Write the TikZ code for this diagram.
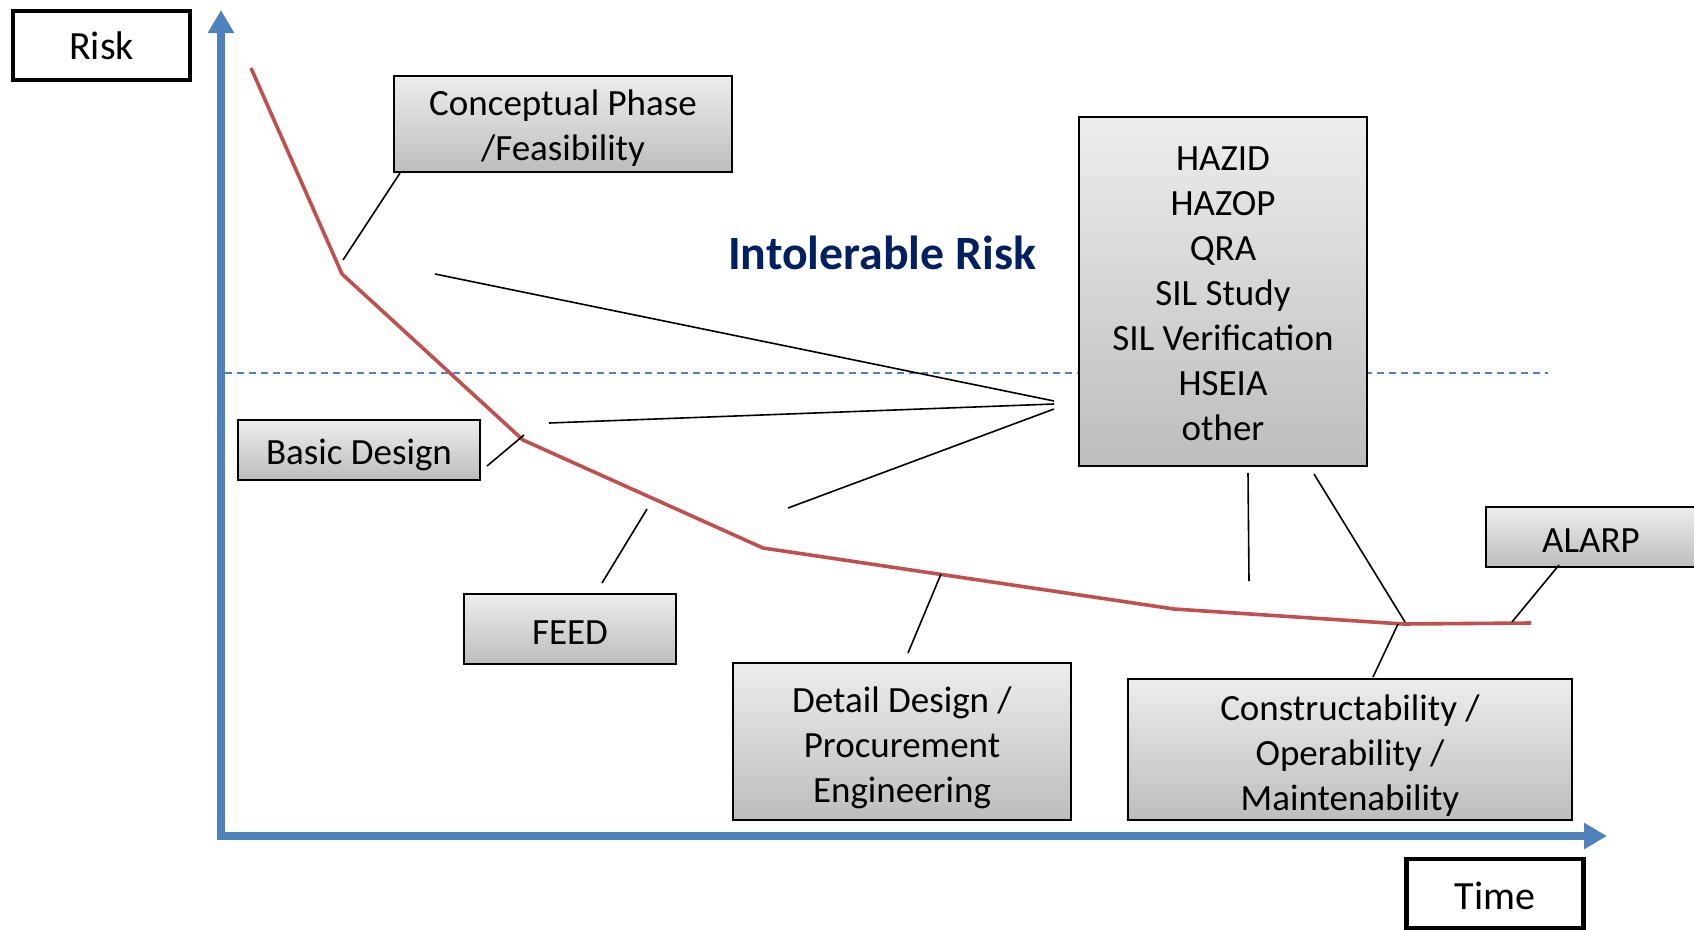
\documentclass[tikz,border=0pt]{standalone}
\usepackage{fontspec}
\setmainfont{Carlito}
\usetikzlibrary{arrows.meta}
\definecolor{axisblue}{HTML}{4F81BD}
\definecolor{curvered}{HTML}{C0504D}
\definecolor{titleblue}{HTML}{002060}
\definecolor{boxtop}{HTML}{EDEDED}
\definecolor{boxbottom}{HTML}{BDBDBD}
% first-line strut: sets the line box so the text sits like the slide layout
\newcommand{\phasestrut}[1]{\rule{0pt}{#1pt}}

\begin{document}
\begin{tikzpicture}[x=1pt,y=-1pt,
  phase/.style={draw=black, line width=1.8pt, top color=boxtop, bottom color=boxbottom,
    inner sep=0pt, align=center, font=\fontsize{37}{44.9}\selectfont},
  axislabel/.style={draw=black, line width=4.5pt, fill=white, inner sep=0pt,
    minimum width=177pt, minimum height=69pt, font=\fontsize{40}{48}\selectfont},
  lift/.style={execute at begin node={\phasestrut{#1}}},
  axisline/.style={axisblue, line width=7.5pt,
    -{Triangle[length=23pt, width=25pt]}},
  leader/.style={black, line width=1.6pt},
  riskcurve/.style={curvered, line width=3.6pt, line join=round},
  threshold/.style={axisblue, line width=1.6pt, dash pattern=on 7pt off 5pt},
]
\path[use as bounding box, clip] (0,0) rectangle (1694,929);

% axes
\coordinate (origin) at (221,836);
\coordinate (ytip) at (221,10);
\coordinate (xtip) at (1607,836);
\draw[axisline] ([yshift=-3.75pt]origin) -- (ytip);
\draw[axisline] ([xshift=-3.75pt]origin) -- (xtip);

% tolerability threshold
\coordinate (thrA) at (225,373);
\coordinate (thrB) at (1548,373);
\draw[threshold] (thrA) -- (thrB);

% axis labels
\node[axislabel] (risk) at (101.5,45.5) {Risk};
\node[axislabel, lift=33] (time) at (1495,893.5) {Time};

% risk reduction curve
\coordinate (c0) at (251,68);
\coordinate (c1) at (342,274);
\coordinate (c2) at (523,440);
\coordinate (c3) at (763,548);
\coordinate (c4) at (1174,609);
\coordinate (c5) at (1403,624);
\coordinate (c6) at (1531,623);
\draw[riskcurve] (c0) -- (c1) -- (c2) -- (c3) -- (c4) -- (c5) -- (c6);

% region label
\node[font=\fontsize{47.8}{57}\bfseries\selectfont, text=titleblue] (intol) at (882,253) {Intolerable Risk};

% project phases
\node[phase, minimum width=338pt, minimum height=96pt] (concept) at (563,124)
  {\phasestrut{34}Conceptual Phase\\/Feasibility};
\node[phase, minimum width=288pt, minimum height=349pt] (studies) at (1223,291.5)
  {\phasestrut{28.2}HAZID\\HAZOP\\QRA\\SIL Study\\SIL Verification\\HSEIA\\other};
\node[phase, lift=34.6, minimum width=242pt, minimum height=60pt] (basic) at (359,450) {Basic Design};
\node[phase, lift=30.2, minimum width=212pt, minimum height=70pt] (feed) at (570,629) {FEED};
\node[phase, minimum width=338pt, minimum height=157pt] (detail) at (902,741.5)
  {\phasestrut{38.3}Detail Design /\\Procurement\\Engineering};
\node[phase, minimum width=444pt, minimum height=141pt] (constr) at (1350,749.5)
  {\phasestrut{38.3}Constructability /\\Operability /\\Maintenability};
\node[phase, lift=30.2, minimum width=210pt, minimum height=60pt] (alarp) at (1591,537) {ALARP};

% leader lines from phases to the curve
\coordinate (lcA) at (400,173);  \coordinate (lcB) at (343,260);
\coordinate (lbA) at (487,466);  \coordinate (lbB) at (524,435);
\coordinate (lfA) at (602,583);  \coordinate (lfB) at (647,509);
\coordinate (ldA) at (908,653);  \coordinate (ldB) at (941,574);
\coordinate (lkA) at (1373,677); \coordinate (lkB) at (1398,624);
\coordinate (laA) at (1559,565); \coordinate (laB) at (1512,622);
\draw[leader] (lcA) -- (lcB);
\draw[leader] (lbA) -- (lbB);
\draw[leader] (lfA) -- (lfB);
\draw[leader] (ldA) -- (ldB);
\draw[leader] (lkA) -- (lkB);
\draw[leader] (laA) -- (laB);

% leader lines from the safety studies
\coordinate (s1A) at (435,274);  \coordinate (s1B) at (1054,401);
\coordinate (s2A) at (549,423);  \coordinate (s2B) at (1054,404);
\coordinate (s3A) at (788,508);  \coordinate (s3B) at (1054,409);
\coordinate (s4A) at (1248,473); \coordinate (s4B) at (1249,581);
\coordinate (s5A) at (1314,474); \coordinate (s5B) at (1405,622);
\draw[leader] (s1A) -- (s1B);
\draw[leader] (s2A) -- (s2B);
\draw[leader] (s3A) -- (s3B);
\draw[leader] (s4A) -- (s4B);
\draw[leader] (s5A) -- (s5B);
\end{tikzpicture}
\end{document}
